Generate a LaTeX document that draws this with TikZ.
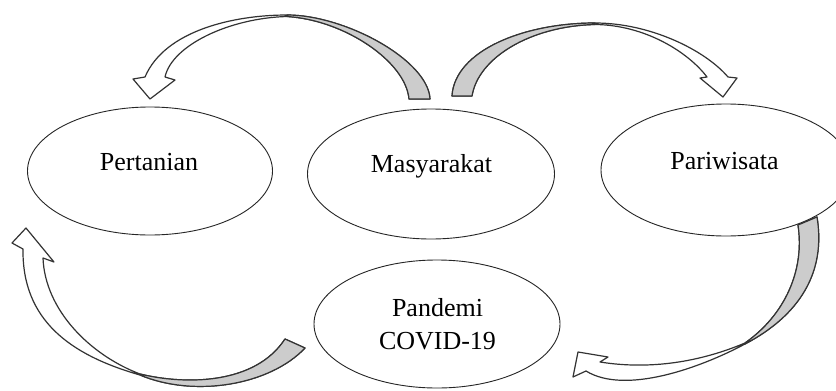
\documentclass[tikz,border=0pt]{standalone}
\usepackage{fontspec}
\setmainfont{Liberation Serif}
\usetikzlibrary{shapes.geometric}
\begin{document}
\begin{tikzpicture}[x=1pt,y=-1pt,
  bubble/.style={draw=black!85, line width=0.9pt, ellipse, inner sep=0pt, outer sep=0pt},
  lbl/.style={font=\fontsize{26}{30}\selectfont, anchor=base, inner sep=0pt},
  band/.style={draw=black!80, line width=1.2pt, fill=white, line join=round},
  back/.style={draw=black!80, line width=1.2pt, fill=gray!40, line join=round}]
\useasboundingbox (0,0) rectangle (836,391);
\fill[white] (0,0) rectangle (836,391);

% ellipses
\node[bubble, minimum width=245pt, minimum height=128pt] (pert) at (150,171) {};
\node[bubble, minimum width=247pt, minimum height=130pt] (masy) at (431,174) {};
\node[bubble, minimum width=250pt, minimum height=132pt] (pari) at (726,170) {};
\node[bubble, minimum width=246pt, minimum height=128pt] (pand) at (437,324) {};

% labels
\node[lbl] (tpert) at (149,170.7) {Pertanian};
\node[lbl] (tmasy) at (431.5,172.7) {Masyarakat};
\node[lbl] (tpari) at (724.5,169) {Pariwisata};
\node[lbl] (tpand1) at (437.5,316) {Pandemi};
\node[lbl] (tpand2) at (437.5,349) {COVID-19};

% top-left arrow: Masyarakat -> Pertanian
\filldraw[band] (430,99) .. controls (428,60) and (345,15) .. (287,15)
  .. controls (235,15) and (165,30) .. (145,77)
  -- (133,79) -- (150,99) -- (175,80) -- (165,77)
  .. controls (172,45) and (230,18) .. (287,16.5)
  .. controls (345,20) and (406,62) .. (409,99) -- cycle;
\filldraw[back] (430,99) .. controls (428,60) and (345,15) .. (287,15)
  -- (287,16.5) .. controls (345,20) and (406,62) .. (409,99) -- cycle;

% top-right arrow: Masyarakat -> Pariwisata
\filldraw[band] (452,96) .. controls (455,50) and (525,23) .. (595,23)
  .. controls (650,23) and (705,50) .. (728,77)
  -- (737,78) -- (723,97) -- (700,78) -- (707,77)
  .. controls (688,52) and (645,25) .. (595,24.5)
  .. controls (530,26) and (478,58) .. (472,96) -- cycle;
\filldraw[back] (452,96) .. controls (455,50) and (525,23) .. (595,23)
  -- (595,24.5) .. controls (530,26) and (478,58) .. (472,96) -- cycle;

% bottom-right arrow: Pariwisata -> Pandemi
\filldraw[band] (817,217) .. controls (826,272) and (800,315) .. (745,344)
  .. controls (700,368) and (625,395) .. (586,371)
  -- (573,377) -- (578,352) -- (608,357) -- (600,362)
  .. controls (650,370) and (700,362) .. (745,343)
  .. controls (785,315) and (805,270) .. (798,225) -- cycle;
\filldraw[back] (817,217) .. controls (826,272) and (800,315) .. (745,344)
  -- (745,343) .. controls (785,315) and (805,270) .. (798,225) -- cycle;

% bottom-left arrow: Pandemi -> Pertanian
\filldraw[band] (305,348) .. controls (270,385) and (195,398) .. (140,375)
  .. controls (70,355) and (22,320) .. (23,249)
  -- (12,243) -- (26,228) -- (54,262) -- (43,258)
  .. controls (45,310) and (90,355) .. (140,374)
  .. controls (185,385) and (255,385) .. (285,339) -- cycle;
\filldraw[back] (305,348) .. controls (270,385) and (195,398) .. (140,375)
  -- (140,374) .. controls (185,385) and (255,385) .. (285,339) -- cycle;
\end{tikzpicture}
\end{document}
